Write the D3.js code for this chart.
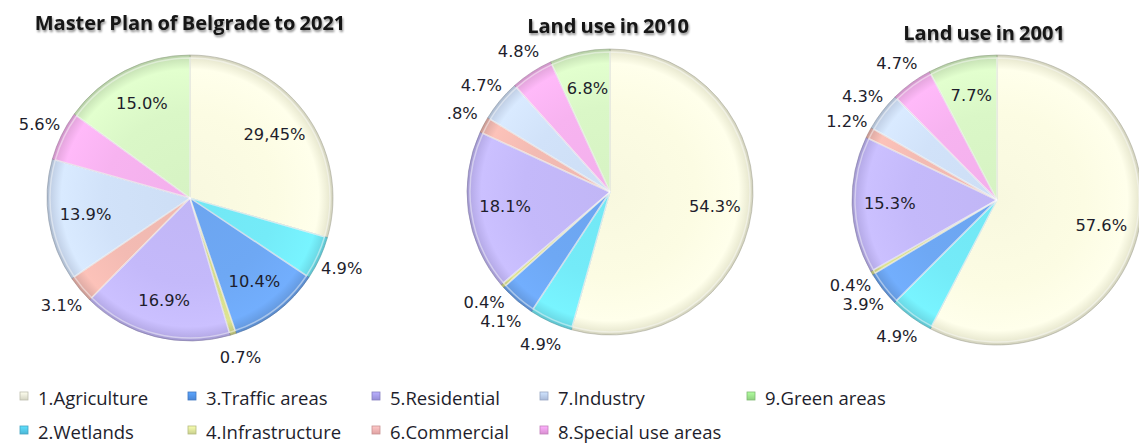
<!DOCTYPE html>
<html>
<head>
<meta charset="utf-8">
<script src="https://cdn.jsdelivr.net/npm/d3@7"></script>
<style>
  html, body { margin: 0; padding: 0; background: #ffffff; }
  svg { display: block; }
</style>
</head>
<body>
<svg id="chart" width="1139" height="444"></svg>
<script>
// ---- data ----
const categories = ["1.Agriculture", "2.Wetlands", "3.Traffic areas", "4.Infrastructure",
  "5.Residential", "6.Commercial", "7.Industry", "8.Special use areas", "9.Green areas"];
const titles = ["Master Plan of Belgrade to 2021", "Land use in 2010", "Land use in 2001"];
const plan2021 = [29.45, 4.9, 10.4, 0.7, 16.9, 3.1, 13.9, 5.6, 15.0];
const labels2021 = ["29,45%", "4.9%", "10.4%", "0.7%", "16.9%", "3.1%", "13.9%", "5.6%", "15.0%"];
const use2010 = [54.3, 4.9, 4.1, 0.4, 18.1, 1.8, 4.7, 4.8, 6.8];
const labels2010 = ["54.3%", "4.9%", "4.1%", "0.4%", "18.1%", ".8%", "4.7%", "4.8%", "6.8%"];
const use2001 = [57.6, 4.9, 3.9, 0.4, 15.3, 1.2, 4.3, 4.7, 7.7];
const labels2001 = ["57.6%", "4.9%", "3.9%", "0.4%", "15.3%", "1.2%", "4.3%", "4.7%", "7.7%"];

// ---- styles ----
const sliceColors = ["#fcfce3", "#74ebf8", "#6ea8f4", "#d6dc8c", "#c4b9fa", "#f3bbb3", "#d1e2f9", "#f7b3f0", "#daf7c7"];
const swatchColors = ["#d4d4c2", "#4cb6d6", "#4a86d6", "#c9d08e", "#968ed6", "#e0a2a2", "#a9b9d8", "#d88fd0", "#8fcf80"];

const svg = d3.select("#chart");
const defs = svg.append("defs");

const pies = [
  { values: plan2021, labels: labels2021, title: titles[0], cx: 190, cy: 198, r: 143, tx: 190, ty: 30 },
  { values: use2010, labels: labels2010, title: titles[1], cx: 610, cy: 192, r: 143, tx: 608, ty: 33 },
  { values: use2001, labels: labels2001, title: titles[2], cx: 997, cy: 200, r: 145, tx: 984, ty: 40 }
];

// title shadow filter
const f = defs.append("filter").attr("id", "tshadow").attr("x", "-10%").attr("y", "-30%").attr("width", "120%").attr("height", "160%");
f.append("feGaussianBlur").attr("in", "SourceAlpha").attr("stdDeviation", 1.2).attr("result", "b");
f.append("feOffset").attr("in", "b").attr("dx", 1).attr("dy", 1.5).attr("result", "o");
f.append("feComponentTransfer").attr("in", "o").attr("result", "o2")
  .append("feFuncA").attr("type", "linear").attr("slope", 0.45);
const fm = f.append("feMerge");
fm.append("feMergeNode").attr("in", "o2");
fm.append("feMergeNode").attr("in", "SourceGraphic");

const pieGen = d3.pie().sort(null).value(d => d);
const labelSize = 16.3;
const minGap = 19;

pies.forEach((p, pi) => {
  sliceColors.forEach((c, ci) => {
    const base = d3.color(c);
    const g = defs.append("radialGradient")
      .attr("id", `g${pi}_${ci}`)
      .attr("gradientUnits", "userSpaceOnUse")
      .attr("cx", 0).attr("cy", 0).attr("r", p.r);
    g.append("stop").attr("offset", "0%").attr("stop-color", base.darker(0.05));
    g.append("stop").attr("offset", "60%").attr("stop-color", base);
    g.append("stop").attr("offset", "90%").attr("stop-color", base.brighter(0.1));
    g.append("stop").attr("offset", "97%").attr("stop-color", base.darker(0.2));
    g.append("stop").attr("offset", "100%").attr("stop-color", base.darker(0.55));
  });

  const g = svg.append("g").attr("transform", `translate(${p.cx},${p.cy})`);
  const arcs = pieGen(p.values);
  const arc = d3.arc().innerRadius(0).outerRadius(p.r);
  const arcIn = d3.arc().innerRadius(0).outerRadius(p.r - 3);

  g.selectAll("path.slice").data(arcs).join("path")
    .attr("class", "slice")
    .attr("d", arc)
    .attr("fill", (d, i) => `url(#g${pi}_${i})`)
    .attr("stroke", (d, i) => d3.color(sliceColors[i]).darker(1.2).copy({ opacity: 0.55 }))
    .attr("stroke-width", 1)
    .attr("stroke-linejoin", "round");

  g.selectAll("path.hl").data(arcs).join("path")
    .attr("class", "hl")
    .attr("d", arcIn)
    .attr("fill", "none")
    .attr("stroke", "#ffffff")
    .attr("stroke-opacity", 0.45)
    .attr("stroke-width", 1.5);

  // label positions
  const total = d3.sum(p.values);
  const pos = arcs.map((d, i) => {
    const share = d.value / total;
    const outside = share <= 0.06;
    const rr = outside ? p.r * 1.17 : p.r * 0.74;
    const a = (d.startAngle + d.endAngle) / 2;
    return { x: Math.sin(a) * rr, y: -Math.cos(a) * rr, outside, text: p.labels[i] };
  });
  // simple de-overlap of outside labels on each side
  [-1, 1].forEach(side => {
    const group = pos.filter(o => o.outside && Math.sign(o.x) === side).sort((a, b) => a.y - b.y);
    for (let k = 1; k < group.length; k++) {
      if (group[k].y - group[k - 1].y < minGap) group[k].y = group[k - 1].y + minGap;
    }
  });

  g.selectAll("text.lbl").data(pos).join("text")
    .attr("class", "lbl")
    .attr("x", d => d.x)
    .attr("y", d => d.y)
    .text(d => d.text)
    .attr("text-anchor", "middle")
    .attr("dominant-baseline", "central")
    .attr("font-family", "DejaVu Sans, Verdana, sans-serif")
    .attr("font-size", labelSize)
    .attr("fill", "#1e1e2c");

  svg.append("text")
    .attr("x", p.tx).attr("y", p.ty)
    .attr("text-anchor", "middle")
    .attr("font-family", "Open Sans, sans-serif")
    .attr("font-weight", "bold")
    .attr("font-size", 20)
    .attr("word-spacing", -1)
    .attr("fill", "#141414")
    .attr("filter", "url(#tshadow)")
    .text(p.title);
});

// legend
const colX = [20, 188, 372, 540, 747];
const rowY = [397, 431];
const leg = svg.append("g");
categories.forEach((name, i) => {
  const col = Math.floor(i / 2), row = i % 2;
  const x = colX[col], y = rowY[row];
  const c = d3.color(swatchColors[i]);
  const lg = defs.append("linearGradient").attr("id", `sw${i}`).attr("x1", 0).attr("y1", 0).attr("x2", 0).attr("y2", 1);
  lg.append("stop").attr("offset", "0%").attr("stop-color", c.brighter(0.6));
  lg.append("stop").attr("offset", "100%").attr("stop-color", c);
  leg.append("rect")
    .attr("x", x).attr("y", y - 5).attr("width", 8).attr("height", 8)
    .attr("fill", `url(#sw${i})`)
    .attr("stroke", c.darker(0.3)).attr("stroke-width", 0.8);
  leg.append("text")
    .attr("x", x + 18).attr("y", y)
    .attr("dominant-baseline", "central")
    .attr("font-family", "Open Sans, sans-serif")
    .attr("font-size", 18.5)
    .attr("fill", "#1e1e2c")
    .text(name);
});
</script>
</body>
</html>
